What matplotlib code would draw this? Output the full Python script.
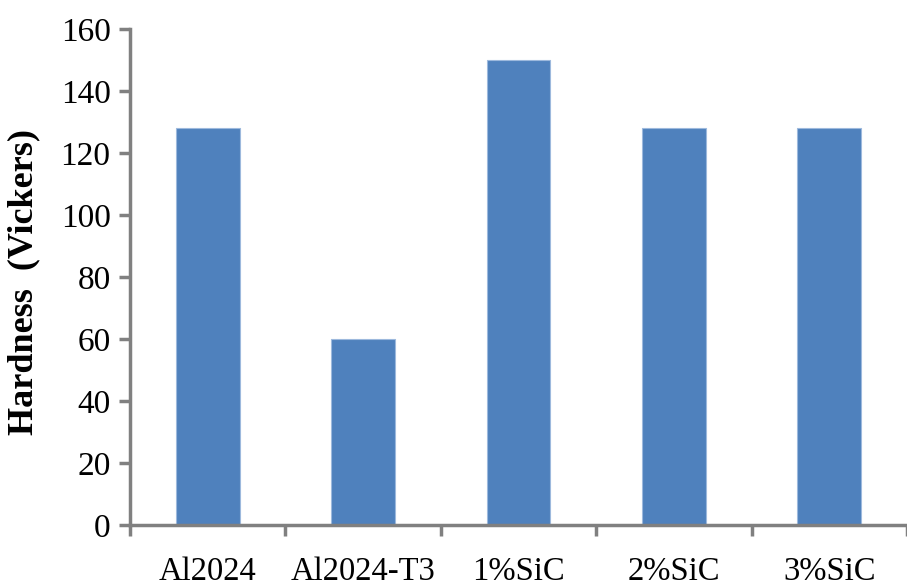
import matplotlib
matplotlib.use("Agg")
import matplotlib.pyplot as plt
import numpy as np

# data
categories = ["Al2024", "Al2024-T3", "1%SiC", "2%SiC", "3%SiC"]
hardness = [128, 60, 150, 128, 128]
y_ticks = [0, 20, 40, 60, 80, 100, 120, 140, 160]

plt.rcParams['font.family'] = ['Liberation Serif', 'DejaVu Serif']

fig = plt.figure(figsize=(9.07, 5.87), dpi=100)
ax = fig.add_axes([130 / 907, 1 - 525 / 587, (907 - 130) / 907, (525 - 29) / 587])

x = np.arange(len(categories))
ax.bar(x, hardness, width=0.41, color='#4F81BD', edgecolor='#9DB9DD', linewidth=0.8, zorder=2)

ax.set_xlim(-0.5, 4.45)
ax.set_ylim(0, 160)
ax.set_yticks(y_ticks)
ax.set_yticklabels([str(v) for v in y_ticks], fontsize=24)

# category labels centred, ticks at category boundaries
ax.set_xticks(x)
ax.set_xticklabels(categories, fontsize=23.5)
ax.tick_params(axis='x', which='major', length=0, pad=23)
ax.set_xticks(np.arange(-0.5, len(categories), 1.0), minor=True)
ax.tick_params(axis='x', which='minor', length=8, width=2.5, color='#808080', direction='out')
ax.tick_params(axis='y', length=8, width=2.5, color='#808080', direction='out', pad=6)

for side in ['top', 'right']:
    ax.spines[side].set_visible(False)
for side in ['left', 'bottom']:
    ax.spines[side].set_color('#808080')
    ax.spines[side].set_linewidth(2.5)

ax.set_ylabel('Hardness  (Vickers)', fontsize=26, fontweight='bold')
ax.yaxis.set_label_coords(-0.116, 0.49)

plt.savefig('out.png', dpi=100)
plt.close()
